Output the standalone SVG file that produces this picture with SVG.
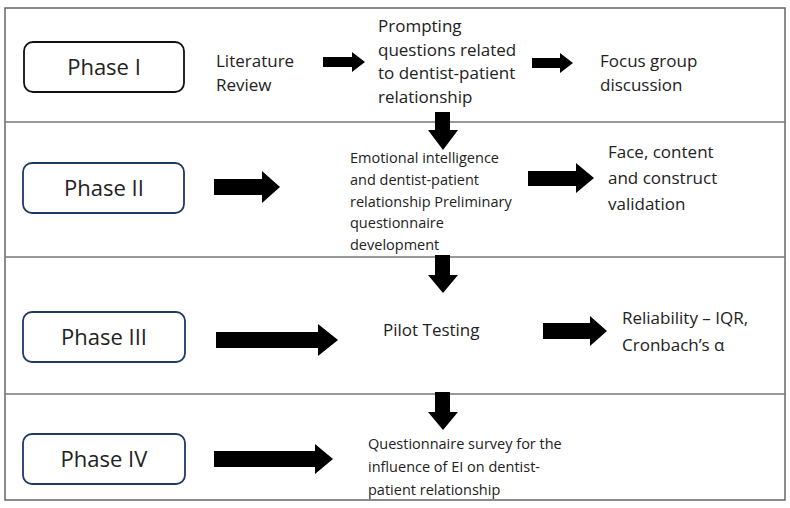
<svg xmlns="http://www.w3.org/2000/svg" width="790" height="508" viewBox="0 0 790 508">
<style>
text{font-family:"Open Sans","Liberation Sans",sans-serif;fill:#222}
.ph{font-size:22px;text-anchor:middle}
.b{fill:#fff;stroke-width:1.8}
.t{font-size:17px}
.s{font-size:14.5px}
.a{fill:#000}
</style>
<rect x="0" y="0" width="790" height="508" fill="#fff"/>
<rect x="5" y="8" width="780" height="492" fill="#fff" stroke="#666" stroke-width="1.5"/>
<g id="rows" stroke="#777" stroke-width="1.5">
<line x1="5" y1="122" x2="785" y2="122"/>
<line x1="5" y1="257" x2="785" y2="257"/>
<line x1="5" y1="394" x2="785" y2="394"/>
</g>
<g id="phase1"><rect class="b" x="24" y="42" width="160" height="50" rx="9" stroke="#111"/><text class="ph" x="104" y="75">Phase I</text></g>
<g id="phase2"><rect class="b" x="23" y="163" width="161" height="50" rx="9" stroke="#1f3864"/><text class="ph" x="104" y="196">Phase II</text></g>
<g id="phase3"><rect class="b" x="23" y="312" width="162" height="50" rx="9" stroke="#1f3864"/><text class="ph" x="104" y="345">Phase III</text></g>
<g id="phase4"><rect class="b" x="23" y="434" width="162" height="50" rx="9" stroke="#1f3864"/><text class="ph" x="104" y="467">Phase IV</text></g>
<g id="lit"><text class="t" x="216" y="67">Literature</text><text class="t" x="216" y="91">Review</text></g>
<g id="prompt"><text class="t" x="378" y="32">Prompting</text><text class="t" x="378" y="56">questions related</text><text class="t" x="378" y="79">to dentist-patient</text><text class="t" x="378" y="103">relationship</text></g>
<g id="focus"><text class="t" x="600" y="67">Focus group</text><text class="t" x="600" y="91">discussion</text></g>
<g id="emo"><text class="s" x="350" y="163">Emotional intelligence</text><text class="s" x="350" y="185">and dentist-patient</text><text class="s" x="350" y="207">relationship Preliminary</text><text class="s" x="350" y="228">questionnaire</text><text class="s" x="350" y="250">development</text></g>
<g id="face"><text class="t" x="608" y="158">Face, content</text><text class="t" x="608" y="184">and construct</text><text class="t" x="608" y="210">validation</text></g>
<g id="pilot"><text class="t" x="383" y="336">Pilot Testing</text></g>
<g id="rel"><text class="t" x="622" y="324">Reliability – IQR,</text><text class="t" x="622" y="351">Cronbach’s α</text></g>
<g id="survey"><text class="s" x="368" y="449">Questionnaire survey for the</text><text class="s" x="368" y="472">influence of EI on dentist-</text><text class="s" x="368" y="495">patient relationship</text></g>
<g id="connectors" class="a">
<polygon points="323,57 352,57 352,52 365,62 352,72 352,67 323,67"/>
<polygon points="532,58 560,58 560,53 573,63 560,73 560,68 532,68"/>
<polygon points="214,179 262,179 262,171 280,187 262,203 262,195 214,195"/>
<polygon points="528,171 576,171 576,163 594,178 576,193 576,186 528,186"/>
<polygon points="216,332 318,332 318,324 338,340 318,356 318,348 216,348"/>
<polygon points="543,323 590,323 590,316 607,331 590,346 590,339 543,339"/>
<polygon points="214,451 315,451 315,444 333,459 315,474 315,467 214,467"/>
<polygon points="435,112 450,112 450,130 458,130 443,150 428,130 435,130"/>
<polygon points="435,255 450,255 450,275 458,275 443,293 428,275 435,275"/>
<polygon points="435,392 450,392 450,412 458,412 443,430 428,412 435,412"/>
</g>
</svg>
